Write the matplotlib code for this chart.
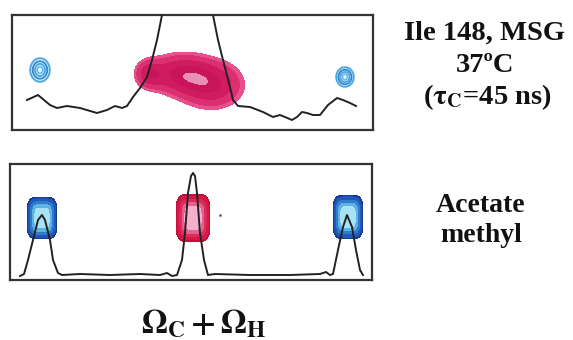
import numpy as np
import matplotlib.pyplot as plt

plt.rcParams["font.family"] = "Liberation Serif"
plt.rcParams["mathtext.fontset"] = "stix"

# top panel (Ile 148, MSG) 1D trace: position, intensity (peak runs off scale)
top_x = [15, 26, 38, 45, 55, 68, 85, 95, 103, 110, 115, 121, 128, 135, 140, 145,
         150, 154, 163, 176, 188, 197, 201, 206, 211, 218, 221, 226, 238, 251,
         261, 268, 273, 280, 285, 290, 295, 301, 308, 316, 325, 331, 338, 344]
top_y = [30, 35, 25, 22, 24, 22, 17, 20, 24, 22, 24, 33, 42, 53, 70, 90,
         115, 140, 170, 185, 170, 140, 115, 90, 70, 43, 30, 24, 23, 18,
         13, 15, 13, 10, 13, 18, 17, 15, 15, 25, 32, 30, 27, 24]

# top panel 2D peaks: centre, width
top_blue_cx = [28, 333]
top_blue_cy = [60, 53]
top_blue_sx = [5.0, 4.5]
top_blue_sy = [6.0, 5.0]
top_red_cx = [137, 168, 200]
top_red_cy = [56, 56, 45]
top_red_sx = [9, 20, 20]
top_red_sy = [9, 13, 15]
top_red_amp = [0.75, 1.0, 1.0]

# bottom panel (acetate methyl) 1D trace
bot_x = [10, 14, 18, 23, 28, 32, 35, 40, 43, 48, 52, 70, 100, 130, 150, 157,
         162, 167, 172, 175, 178, 181, 183, 185, 187, 190, 194, 198, 205, 240,
         280, 310, 316, 320, 323, 328, 333, 337, 342, 346, 350, 353]
bot_y = [4, 6, 20, 40, 60, 65, 60, 40, 20, 7, 5, 6, 5, 6, 5, 7,
         4, 5, 20, 47, 87, 104, 107, 104, 87, 47, 20, 5, 6, 5,
         5, 6, 8, 5, 6, 30, 53, 65, 53, 30, 10, 5]

# bottom panel 2D peaks
bot_cx = [32, 183, 338]
bot_cy = [62, 62, 63]
bot_wx = [15, 17, 15]
bot_wy = [21, 24, 22]
bot_kind = ["blue", "red", "blue"]

blue_shades = ["#1a3c96", "#2058b8", "#2f7ccc", "#5fb2e4", "#a8e2f6"]
red_shades = ["#c40e3c", "#d41848", "#dc2c5c", "#e8608e", "#f6b0cc"]

fig = plt.figure(figsize=(5.73, 3.4), dpi=100)

# ---- top panel
ax1 = fig.add_axes([12 / 573, 1 - 130 / 340, 361 / 573, 115 / 340])
ax1.set_xlim(0, 361)
ax1.set_ylim(0, 115)
xx, yy = np.meshgrid(np.linspace(0, 361, 700), np.linspace(0, 115, 260))

red = np.zeros_like(xx)
for cx, cy, sx, sy, a in zip(top_red_cx, top_red_cy, top_red_sx, top_red_sy, top_red_amp):
    red += a * np.exp(-0.5 * (((xx - cx) / sx) ** 2 + ((yy - cy) / sy) ** 2))
red /= red.max()
ax1.contourf(xx, yy, red, levels=[0.2, 0.3, 0.5, 0.75, 0.95, 1.01],
             colors=["#e6508c", "#dc2f70", "#d01c5e", "#c8145a", "#e890b4"], zorder=1)

for cx, cy, sx, sy in zip(top_blue_cx, top_blue_cy, top_blue_sx, top_blue_sy):
    g = np.exp(-0.5 * (((xx - cx) / sx) ** 2 + ((yy - cy) / sy) ** 2))
    ax1.contourf(xx, yy, g, levels=[0.1, 1.01], colors=["#e6f5fb"], zorder=1)
    ax1.contour(xx, yy, g, levels=[0.15, 0.35, 0.6, 0.85],
                colors=["#4aa6e0", "#2f86cc", "#4aa6e0", "#6cbbe8"],
                linewidths=1.3, zorder=2)

ax1.plot(top_x, top_y, color="#222222", lw=1.4, zorder=3)

# ---- bottom panel
ax2 = fig.add_axes([10 / 573, 1 - 280 / 340, 362 / 573, 116 / 340])
ax2.set_xlim(0, 362)
ax2.set_ylim(0, 116)
xx, yy = np.meshgrid(np.linspace(0, 362, 700), np.linspace(0, 116, 260))
for cx, cy, wx, wy, kind in zip(bot_cx, bot_cy, bot_wx, bot_wy, bot_kind):
    f = np.exp(-((np.abs(xx - cx) / wx) ** 4 + (np.abs(yy - cy) / wy) ** 4))
    shades = blue_shades if kind == "blue" else red_shades
    ax2.contourf(xx, yy, f, levels=[0.37, 0.5, 0.7, 0.85, 0.95, 1.01],
                 colors=shades, zorder=1)
ax2.plot(bot_x, bot_y, color="#222222", lw=1.4, zorder=3)
ax2.plot([210], [65], marker=".", ms=2, color="#666666")

for ax in (ax1, ax2):
    ax.set_xticks([])
    ax.set_yticks([])
    for s in ax.spines.values():
        s.set_color("#333333")
        s.set_linewidth(1.6)

# ---- labels
tkw = dict(ha="center", va="center", fontsize=20.5, fontweight="bold", color="#111111")
fig.text(485 / 573, 1 - 33 / 340, "Ile 148, MSG", **tkw)
fig.text(485 / 573, 1 - 66 / 340, "37ºC", **tkw)
fig.text(487 / 573, 1 - 97 / 340, r"($\mathbf{\tau_{C}}$=45 ns)", **tkw)
tkw["fontsize"] = 20
fig.text(481 / 573, 1 - 205 / 340, "Acetate", **tkw)
fig.text(481 / 573, 1 - 235 / 340, "methyl", **tkw)
fig.text(204 / 573, 1 - 324 / 340, r"$\mathbf{\Omega_{C} + \Omega_{H}}$",
         ha="center", va="center", fontsize=24, color="#111111")

fig.savefig("out.png", dpi=100)
